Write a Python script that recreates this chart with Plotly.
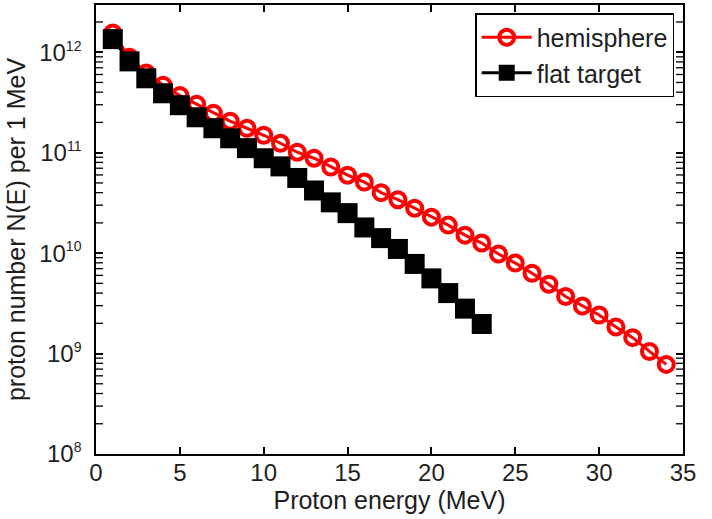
import plotly.graph_objects as go

# Data
energy_hemi = list(range(1, 35))
hemisphere = [1.55e12, 8.9e11, 6.2e11, 4.7e11, 3.7e11, 3.04e11, 2.47e11, 2.06e11, 1.75e11, 1.49e11,
              1.24e11, 1.01e11, 8.8e10, 7.2e10, 5.97e10, 5.1e10, 4.0e10, 3.4e10, 2.8e10, 2.28e10,
              1.9e10, 1.51e10, 1.26e10, 9.8e9, 7.96e9, 6.3e9, 4.9e9, 3.7e9, 2.97e9, 2.42e9,
              1.84e9, 1.44e9, 1.05e9, 7.8e8]
energy_flat = list(range(1, 24))
flat_target = [1.35e12, 8.1e11, 5.5e11, 3.9e11, 2.97e11, 2.25e11, 1.75e11, 1.39e11, 1.11e11, 8.8e10,
               7.3e10, 5.6e10, 4.2e10, 3.2e10, 2.5e10, 1.8e10, 1.41e10, 1.1e10, 7.8e9, 5.6e9,
               4.0e9, 2.8e9, 1.97e9]

x_ticks = [0, 5, 10, 15, 20, 25, 30, 35]
x_range = [0, 35]
y_exponents = [8, 9, 10, 11, 12]
y_tickvals = [10 ** e for e in y_exponents]
y_ticktext = ["10<sup><span style='font-size:14px'>%d</span></sup>" % e for e in y_exponents]
y_minor = [m * 10 ** e for e in y_exponents for m in range(2, 10)]

FONT = "Liberation Sans, Arial, sans-serif"
TXT = "#1e1e1e"

fig = go.Figure()

# minor log ticks on the left and right frame (clipped to the plot area -> point inward)
for edge in x_range:
    fig.add_trace(go.Scatter(
        x=[edge] * len(y_minor), y=y_minor, mode="markers", showlegend=False, hoverinfo="skip",
        marker=dict(symbol="line-ew", size=10, color="black", line=dict(width=1.3, color="black")),
        cliponaxis=True,
    ))

fig.add_trace(go.Scatter(
    x=energy_hemi, y=hemisphere, name="hemisphere", mode="lines+markers",
    line=dict(color="#ff0000", width=3),
    marker=dict(symbol="circle-open", size=15, color="#ff0000", line=dict(width=4, color="#ff0000")),
))
fig.add_trace(go.Scatter(
    x=energy_flat, y=flat_target, name="flat target", mode="lines+markers",
    line=dict(color="#000000", width=3),
    marker=dict(symbol="square", size=20, color="#000000", line=dict(width=0)),
))

axis_common = dict(
    showline=True, linecolor="black", linewidth=1.5, mirror="ticks",
    ticks="inside", ticklen=7, tickwidth=1.5, tickcolor="black",
    showgrid=False, zeroline=False, automargin=False,
    tickfont=dict(family=FONT, size=24, color=TXT),
)

fig.update_layout(
    width=712, height=519,
    margin=dict(l=96, r=29, t=5, b=65),
    paper_bgcolor="white", plot_bgcolor="white",
    font=dict(family=FONT, color=TXT),
    xaxis=dict(
        range=x_range, tickvals=x_ticks, ticktext=[str(v) for v in x_ticks],
        title=dict(text="Proton energy (MeV)", font=dict(family=FONT, size=25, color=TXT), standoff=3),
        ticklabelstandoff=-4,
        **axis_common,
    ),
    yaxis=dict(
        type="log", range=[8, 12.47], tickvals=y_tickvals, ticktext=y_ticktext,
        title=dict(text="proton number N(E) per 1 MeV", font=dict(family=FONT, size=25, color=TXT), standoff=6),
        ticklabelstandoff=8,
        **axis_common,
    ),
    legend=dict(
        x=0.985, y=0.982, xanchor="right", yanchor="top",
        bgcolor="white", bordercolor="black", borderwidth=1.5,
        font=dict(family=FONT, size=25, color=TXT),
        itemwidth=50, tracegroupgap=0,
    ),
    showlegend=True,
)

fig.write_html("out.html", config={"displayModeBar": False},
               post_script="document.body.style.margin='0';")
